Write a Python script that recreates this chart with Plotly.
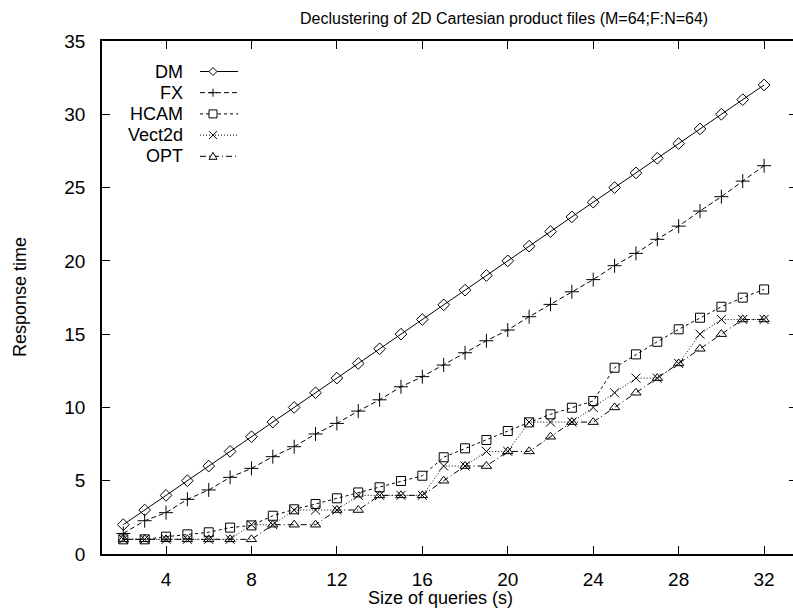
import plotly.graph_objects as go

# ---------------- data ----------------
sizes = list(range(2, 33))
dm = [2, 3, 4, 5, 6, 7, 8, 9, 10, 11, 12, 13, 14, 15, 16, 17, 18, 19, 20, 21,
      22, 23, 24, 25, 26, 27, 28, 29, 30, 31, 32]
fx = [1.4, 2.27, 2.82, 3.73, 4.37, 5.23, 5.84, 6.64, 7.32, 8.19, 8.91, 9.75,
      10.52, 11.41, 12.1, 12.89, 13.73, 14.55, 15.28, 16.19, 17.03, 17.89,
      18.72, 19.67, 20.51, 21.47, 22.37, 23.4, 24.38, 25.44, 26.49]
hcam = [1.0, 1.0, 1.18, 1.34, 1.48, 1.8, 1.95, 2.61, 3.05, 3.41, 3.8, 4.2,
        4.55, 4.98, 5.34, 6.6, 7.21, 7.78, 8.39, 8.98, 9.53, 9.98, 10.44,
        12.71, 13.62, 14.48, 15.33, 16.12, 16.87, 17.49, 18.05]
vect2d = [1, 1, 1, 1, 1, 1, 2, 2, 3, 3, 3, 4, 4, 4, 4, 6, 6, 7, 7, 9, 9, 9,
          10, 11, 12, 12, 13, 15, 16, 16, 16]
opt = [1, 1, 1, 1, 1, 1, 1, 2, 2, 2, 3, 3, 4, 4, 4, 5, 6, 6, 7, 7, 8, 9, 9,
       10, 11, 12, 13, 14, 15, 16, 16]
series_names = ["DM", "FX", "HCAM", "Vect2d", "OPT"]
x_ticks = [4, 8, 12, 16, 20, 24, 28, 32]
y_ticks = [0, 5, 10, 15, 20, 25, 30, 35]

# ---------------- styles ----------------
W, H = 793, 610
ML, MR, MT, MB = 102, 0, 41, 56
PW, PH = W - ML - MR, H - MT - MB
FONT = "Liberation Sans, Arial, Helvetica, sans-serif"

styles = {
    "DM": dict(dash="solid", symbol="diamond-open", size=9),
    "FX": dict(dash="5px,3px", symbol="cross-thin-open", size=10),
    "HCAM": dict(dash="3px,3px", symbol="square-open", size=9),
    "Vect2d": dict(dash="1px,2px", symbol="x-thin-open", size=9),
    "OPT": dict(dash="6px,3px,1px,3px", symbol="triangle-up-open", size=9),
}
data = {"DM": dm, "FX": fx, "HCAM": hcam, "Vect2d": vect2d, "OPT": opt}


def xp(px):
    return (px - ML) / PW


def yp(py):
    return (H - MB - py) / PH


fig = go.Figure()
for name in series_names:
    st = styles[name]
    fig.add_trace(go.Scatter(
        x=sizes, y=data[name], mode="lines+markers", name=name,
        line=dict(color="black", width=1, dash=st["dash"]),
        marker=dict(symbol=st["symbol"], size=st["size"], color="black",
                    line=dict(color="black", width=1)),
        showlegend=False,
    ))

# invisible trace to hold right-side mirrored ticks
fig.add_trace(go.Scatter(x=[sizes[0]], y=[dm[0]], yaxis="y2", mode="none",
                         showlegend=False, hoverinfo="skip"))

# ---------------- custom gnuplot-style key ----------------
shapes = []
annotations = []
row0, row_gap = 71.5, 21.2
label_right, line_x0, line_x1, mark_x = 185, 200, 238, 213
marker_paths = {
    "DM": "M 0,4 L 4,0 L 0,-4 L -4,0 Z",
    "FX": "M -4,0 L 4,0 M 0,-4 L 0,4",
    "HCAM": "M -4,-4 L 4,-4 L 4,4 L -4,4 Z",
    "Vect2d": "M -4,-4 L 4,4 M -4,4 L 4,-4",
    "OPT": "M -4,-3 L 4,-3 L 0,4 Z",
}
for i, name in enumerate(series_names):
    ry = row0 + i * row_gap
    annotations.append(dict(
        text=name, xref="paper", yref="paper", x=xp(label_right), y=yp(ry),
        xanchor="right", yanchor="middle", showarrow=False,
        font=dict(family=FONT, size=18, color="black")))
    shapes.append(dict(
        type="line", xref="paper", yref="paper",
        x0=xp(line_x0), x1=xp(line_x1), y0=yp(ry), y1=yp(ry),
        line=dict(color="black", width=1, dash=styles[name]["dash"])))
    shapes.append(dict(
        type="path", xref="paper", yref="paper",
        xsizemode="pixel", ysizemode="pixel",
        xanchor=xp(mark_x), yanchor=yp(ry),
        path=marker_paths[name], fillcolor="white",
        line=dict(color="black", width=1)))

# titles
annotations.append(dict(
    text="Declustering of 2D Cartesian product files (M=64;F:N=64)",
    xref="paper", yref="paper", x=xp(504), y=yp(18),
    xanchor="center", yanchor="middle", showarrow=False,
    font=dict(family=FONT, size=16, color="black")))
annotations.append(dict(
    text="Size of queries (s)", xref="paper", yref="paper",
    x=xp(440), y=yp(598), xanchor="center", yanchor="middle",
    showarrow=False, font=dict(family=FONT, size=18, color="black")))
annotations.append(dict(
    text="Response time", xref="paper", yref="paper",
    x=xp(20), y=yp(297), xanchor="center", yanchor="middle", textangle=-90,
    showarrow=False, font=dict(family=FONT, size=18, color="black")))

x_max = 2 + (W - 123.3) / 21.36
x_min = 2 - (123.3 - ML) / 21.36

fig.update_layout(
    width=W, height=H,
    margin=dict(l=ML, r=MR, t=MT, b=MB, pad=0),
    paper_bgcolor="white", plot_bgcolor="white",
    font=dict(family=FONT, size=19, color="black"),
    shapes=shapes, annotations=annotations,
    xaxis=dict(range=[x_min, x_max], tickvals=x_ticks,
               ticks="inside", ticklen=8, tickwidth=1, tickcolor="black",
               showline=True, linecolor="black", linewidth=1.5,
               mirror="ticks", showgrid=False, zeroline=False,
               ticklabelstandoff=7,
               tickfont=dict(family=FONT, size=19, color="black")),
    yaxis=dict(range=[0, 35], tickvals=y_ticks,
               ticks="inside", ticklen=8, tickwidth=1, tickcolor="black",
               showline=True, linecolor="black", linewidth=1.5,
               mirror=False, showgrid=False, zeroline=False,
               ticklabelstandoff=11,
               tickfont=dict(family=FONT, size=19, color="black")),
    yaxis2=dict(range=[0, 35], tickvals=y_ticks, overlaying="y", side="right",
                ticks="inside", ticklen=4, tickwidth=1, tickcolor="black",
                showline=False, showticklabels=False, showgrid=False,
                zeroline=False),
)

fig.write_html("out.html")
